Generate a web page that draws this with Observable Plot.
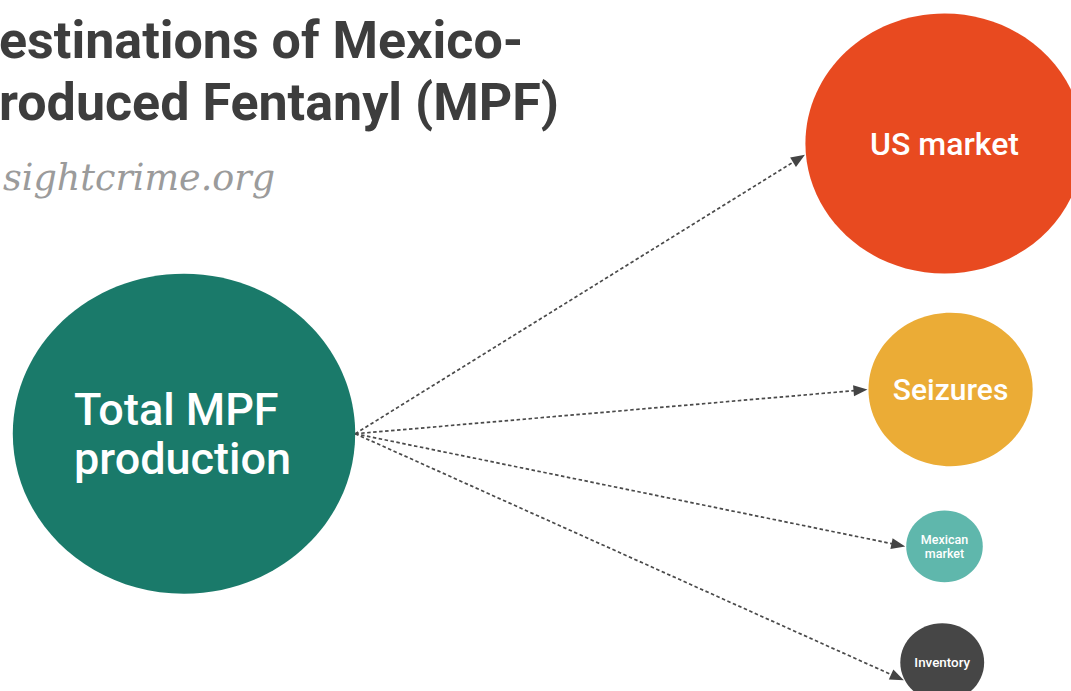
<!DOCTYPE html>
<html>
<head>
<meta charset="utf-8">
<script src="https://cdn.jsdelivr.net/npm/d3@7"></script>
<script src="https://cdn.jsdelivr.net/npm/@observablehq/plot@0.6"></script>
<style>
  html, body { margin: 0; padding: 0; background: #fff; overflow: hidden; }
  #wrap { position: relative; width: 1071px; height: 691px; }
  #title { position: absolute; left: -1px; top: 10px; font-family: Roboto, "Noto Sans", sans-serif; font-weight: 700; font-size: 52px; line-height: 62px; color: #3d3d3d; white-space: nowrap; }
  #source { position: absolute; left: 3px; top: 156px; font-family: "DejaVu Serif", "Liberation Serif", serif; font-style: italic; font-size: 36.5px; color: #9b9b9b; white-space: nowrap; }
  #chart { position: absolute; left: 0; top: 0; }
</style>
</head>
<body>
<div id="wrap">
  <div id="chart"></div>
  <div id="title">estinations of Mexico-<br>roduced Fentanyl (MPF)</div>
  <div id="source">sightcrime.org</div>
</div>
<script>
// ---- data ----
const nodes  = ["Total MPF production", "US market", "Seizures", "Mexican market", "Inventory"];
const labels = ["Total MPF\nproduction", "US market", "Seizures", "Mexican\nmarket", "Inventory"];
const shares = [100, 66, 23, 5, 6];          // share of total MPF (%), read from circle areas
const flowsFrom = ["Total MPF production", "Total MPF production", "Total MPF production", "Total MPF production"];
const flowsTo   = ["US market", "Seizures", "Mexican market", "Inventory"];

// ---- layout (abstract) ----
const column = [0, 1, 1.008, 1, 0.997];
const row    = [0.627, 0.207, 0.563, 0.790, 0.958];
const entryAngle = [0, 5, 0, 0, 27];          // degrees below horizontal where arrows meet the circles
const colors = ["#1a7a6a", "#e84a20", "#ebac36", "#5fb7ac", "#464646"];
const labelSize = [45, 32, 30, 12.5, 13.4];

const W = 1071, H = 691;
const STRETCH = 1.07;   // the original is slightly wider than tall

const xS = d3.scaleLinear().domain([0, 1]).range([183.5, 944]);
const yS = d3.scaleLinear().domain([0, 1]).range([0, H]);
const rS = d3.scaleSqrt().domain([0, 100]).range([0, 160]);

const table = nodes.map((n, i) => ({
  name: n, label: labels[i], share: shares[i], col: column[i], row: row[i],
  color: colors[i], size: labelSize[i], angle: entryAngle[i]
}));
const byName = new Map(table.map(d => [d.name, d]));

const ellipse = {
  draw(ctx, size) {
    const r = Math.sqrt(size / Math.PI), rx = r * STRETCH, k = 0.5523;
    ctx.moveTo(rx, 0);
    ctx.bezierCurveTo(rx, k * r, k * rx, r, 0, r);
    ctx.bezierCurveTo(-k * rx, r, -rx, k * r, -rx, 0);
    ctx.bezierCurveTo(-rx, -k * r, -k * rx, -r, 0, -r);
    ctx.bezierCurveTo(k * rx, -r, rx, -k * r, rx, 0);
    ctx.closePath();
  }
};

// arrows in pixel space, converted back to data units
const arrows = flowsFrom.map((f, i) => {
  const s = byName.get(f), t = byName.get(flowsTo[i]);
  const sx = xS(s.col) + rS(s.share) * STRETCH, sy = yS(s.row);
  const a = t.angle * Math.PI / 180, rt = rS(t.share);
  const tx = xS(t.col) - rt * STRETCH * Math.cos(a) - 1, ty = yS(t.row) + rt * Math.sin(a);
  const dir = Math.atan2(ty - sy, tx - sx);
  return {
    x1: xS.invert(sx), y1: yS.invert(sy),
    x2: xS.invert(tx - 8 * Math.cos(dir)), y2: yS.invert(ty - 8 * Math.sin(dir)),
    hx: xS.invert(tx), hy: yS.invert(ty), dir
  };
});

function headSymbol(dir) {
  const c = Math.cos(dir), s = Math.sin(dir);
  const L = 14, hw = 5.5;
  const p = (u, v) => [u * c - v * s, u * s + v * c];
  return {
    draw(ctx) {
      const a = p(-L, -hw), b = p(-L, hw);
      ctx.moveTo(0, 0); ctx.lineTo(a[0], a[1]); ctx.lineTo(b[0], b[1]); ctx.closePath();
    }
  };
}

const font = "Roboto, 'Noto Sans', sans-serif";
const main = table[0];
const others = table.slice(1);

const marks = [
  Plot.link(arrows, {x1: "x1", y1: "y1", x2: "x2", y2: "y2", stroke: "#4a4a4a", strokeWidth: 1.7, strokeDasharray: "3.5,2.5"}),
  ...arrows.map(d => Plot.dot([d], {x: "hx", y: "hy", symbol: headSymbol(d.dir), fill: "#444", stroke: "none", r: 4})),
  Plot.dot(table, {x: "col", y: "row", r: "share", symbol: ellipse, fill: "color", stroke: "none", sort: null}),
  // source label: left-aligned block inside the big circle
  Plot.text([main], {
    x: "col", y: "row", text: "label", fill: "#fff", fontSize: main.size,
    fontFamily: font, fontWeight: 500, lineHeight: 1.08,
    textAnchor: "start", lineAnchor: "middle", dx: -110
  }),
  ...[...new Set(others.map(d => d.size))].map(sz => Plot.text(others.filter(d => d.size === sz), {
    x: "col", y: "row", text: "label", fill: "#fff", fontSize: sz,
    fontFamily: font, fontWeight: 500,
    lineHeight: sz > 20 ? 1.08 : 1.15, textAnchor: "middle", lineAnchor: "middle"
  }))
];

const chart = Plot.plot({
  width: W, height: H,
  margin: 0,
  x: {domain: [0, 1], range: [183.5, 944], axis: null},
  y: {domain: [0, 1], range: [0, H], axis: null},
  r: {type: "sqrt", domain: [0, 100], range: [0, 160]},
  color: {type: "identity"},
  style: {background: "transparent", overflow: "visible"},
  marks
});
document.getElementById("chart").appendChild(chart);
</script>
</body>
</html>
